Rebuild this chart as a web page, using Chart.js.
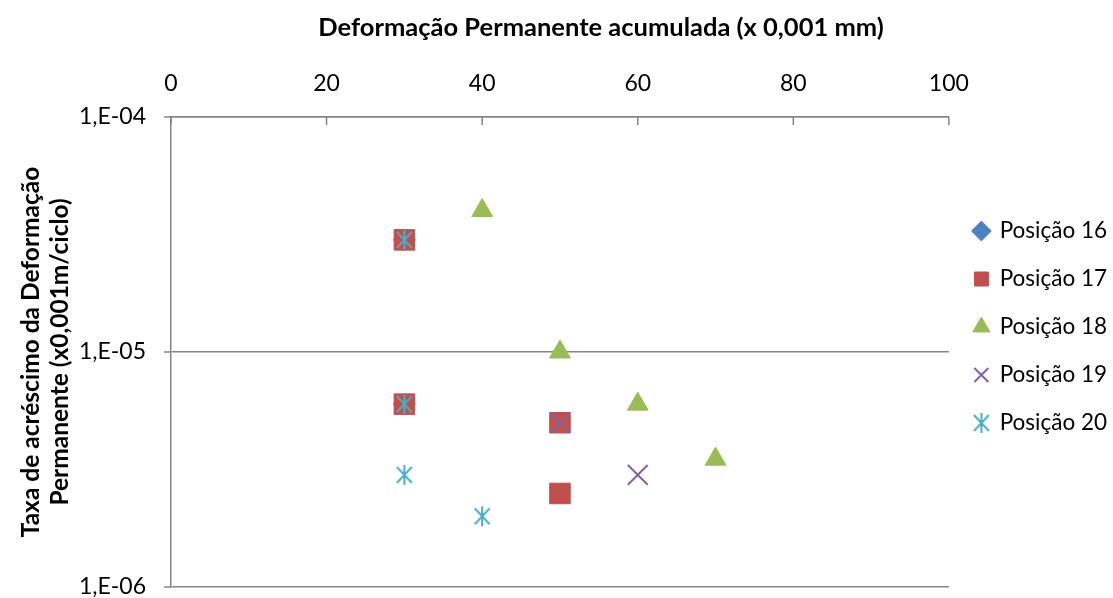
<!DOCTYPE html>
<html>
<head>
<meta charset="utf-8">
<script src="https://cdn.jsdelivr.net/npm/chart.js@4"></script>
<style>
  body { margin: 0; background: #fff; }
  #wrap { width: 1113px; height: 598px; position: relative; }
</style>
</head>
<body>
<div id="wrap"><canvas id="grafico"></canvas></div>
<script>
// dados
const series = ["Posição 16", "Posição 17", "Posição 18", "Posição 19", "Posição 20"];
const x16 = [30, 30];
const y16 = [3e-5, 6e-6];
const x17 = [30, 30, 50, 50];
const y17 = [3e-5, 6e-6, 5e-6, 2.5e-6];
const x18 = [40, 50, 60, 70];
const y18 = [4e-5, 1e-5, 6e-6, 3.5e-6];
const x19 = [50, 60];
const y19 = [5e-6, 3e-6];
const x20 = [30, 30, 30, 40];
const y20 = [3e-5, 6e-6, 3e-6, 2e-6];
const xTicks = [0, 20, 40, 60, 80, 100];
const yTicks = [1e-6, 1e-5, 1e-4];

const tituloX = "Deformação Permanente acumulada (x 0,001 mm)";
const tituloY = ["Taxa de acréscimo da Deformação", "Permanente (x0,001m/ciclo)"];

const cinza = "#868686";
const fonte = "Lato, 'Open Sans', sans-serif";

function pares(xs, ys) {
  return xs.map((x, i) => ({ x: x, y: ys[i] }));
}

// asterisco estilo Excel (vertical + duas diagonais)
function asterisco(tam, cor) {
  const c = document.createElement("canvas");
  c.width = tam; c.height = tam;
  const g = c.getContext("2d");
  const m = tam / 2, r = tam / 2 - 1;
  g.strokeStyle = cor;
  g.lineWidth = 2;
  g.beginPath();
  g.moveTo(m, m - r); g.lineTo(m, m + r);
  g.moveTo(m - r * 0.75, m - r * 0.8); g.lineTo(m + r * 0.75, m + r * 0.8);
  g.moveTo(m + r * 0.75, m - r * 0.8); g.lineTo(m - r * 0.75, m + r * 0.8);
  g.stroke();
  return c;
}

function formatoExp(v) {
  const e = Math.round(Math.log10(v));
  return "1,E" + (e < 0 ? "-" : "+") + String(Math.abs(e)).padStart(2, "0");
}

// marcas de divisão (X para dentro, Y para fora) e título superior
const extras = {
  id: "extras",
  afterDraw(chart) {
    const ctx = chart.ctx;
    const sx = chart.scales.x;
    const sy = chart.scales.y;
    const area = chart.chartArea;
    ctx.save();
    ctx.strokeStyle = cinza;
    ctx.lineWidth = 1.5;
    ctx.beginPath();
    sx.ticks.forEach(t => {
      const px = sx.getPixelForValue(t.value);
      ctx.moveTo(px, area.top);
      ctx.lineTo(px, area.top + 8);
    });
    sy.ticks.forEach(t => {
      const py = sy.getPixelForValue(t.value);
      ctx.moveTo(area.left - 7, py);
      ctx.lineTo(area.left, py);
    });
    ctx.stroke();
    ctx.fillStyle = "#000";
    ctx.font = "bold 25.5px " + fonte;
    ctx.textAlign = "center";
    ctx.textBaseline = "middle";
    ctx.fillText(tituloX, 601, 28);
    ctx.restore();
  }
};

const datasets = [
  { label: series[0], data: pares(x16, y16), pointStyle: "rectRot", pointRadius: 11,
    backgroundColor: "#4F81BD", borderColor: "#4F81BD", order: 5 },
  { label: series[1], data: pares(x17, y17), pointStyle: "rect", pointRadius: 14.5,
    backgroundColor: "#C0504D", borderColor: "#C0504D", order: 4 },
  { label: series[2], data: pares(x18, y18), pointStyle: "triangle", pointRadius: 12,
    backgroundColor: "#9BBB59", borderColor: "#9BBB59", order: 3 },
  { label: series[3], data: pares(x19, y19), pointStyle: "crossRot", pointRadius: 14,
    backgroundColor: "#8064A2", borderColor: "#8064A2", borderWidth: 2, order: 2 },
  { label: series[4], data: pares(x20, y20), pointStyle: asterisco(22, "#4BACC6"),
    backgroundColor: "#4BACC6", borderColor: "#4BACC6", order: 1 }
];

new Chart(document.getElementById("grafico"), {
  type: "scatter",
  data: { datasets: datasets },
  options: {
    responsive: true,
    maintainAspectRatio: false,
    animation: false,
    layout: { autoPadding: false, padding: { top: 0, bottom: 0, left: 0, right: -4 } },
    plugins: {
      tooltip: { enabled: false },
      legend: {
        position: "right",
        align: "center",
        title: { display: true, text: " ", padding: { top: 22, bottom: 22 }, font: { size: 10 } },
        labels: {
          usePointStyle: true,
          boxWidth: 14,
          boxHeight: 14,
          padding: 25.5,
          color: "#000",
          font: { family: fonte, size: 22.5 },
          sort: (a, b) => a.datasetIndex - b.datasetIndex
        }
      }
    },
    scales: {
      x: {
        type: "linear",
        position: "top",
        min: 0,
        max: 100,
        afterBuildTicks: s => { s.ticks = xTicks.map(v => ({ value: v })); },
        afterFit: s => { s.height = 117; },
        grid: { drawOnChartArea: false, drawTicks: false },
        border: { display: true, color: cinza, width: 1.5 },
        ticks: { color: "#000", padding: 22, font: { family: fonte, size: 23, lineHeight: 1 } }
      },
      y: {
        type: "logarithmic",
        min: 1e-6,
        max: 1e-4,
        afterBuildTicks: s => { s.ticks = yTicks.map(v => ({ value: v })); },
        afterFit: s => { s.width = 171; s.paddingBottom = 11; s.paddingTop = 0; },
        grid: { color: cinza, lineWidth: 1.5, tickLength: 25, tickColor: "rgba(0,0,0,0)" },
        border: { display: true, color: cinza, width: 1.5 },
        ticks: { color: "#000", padding: 0, font: { family: fonte, size: 23, lineHeight: 0.9 },
          callback: v => formatoExp(v) },
        title: {
          display: true,
          text: tituloY,
          color: "#000",
          padding: { top: 16, bottom: 0 },
          font: { family: fonte, size: 24.5, weight: "bold", lineHeight: 1.2 }
        }
      }
    }
  },
  plugins: [extras]
});
</script>
</body>
</html>
